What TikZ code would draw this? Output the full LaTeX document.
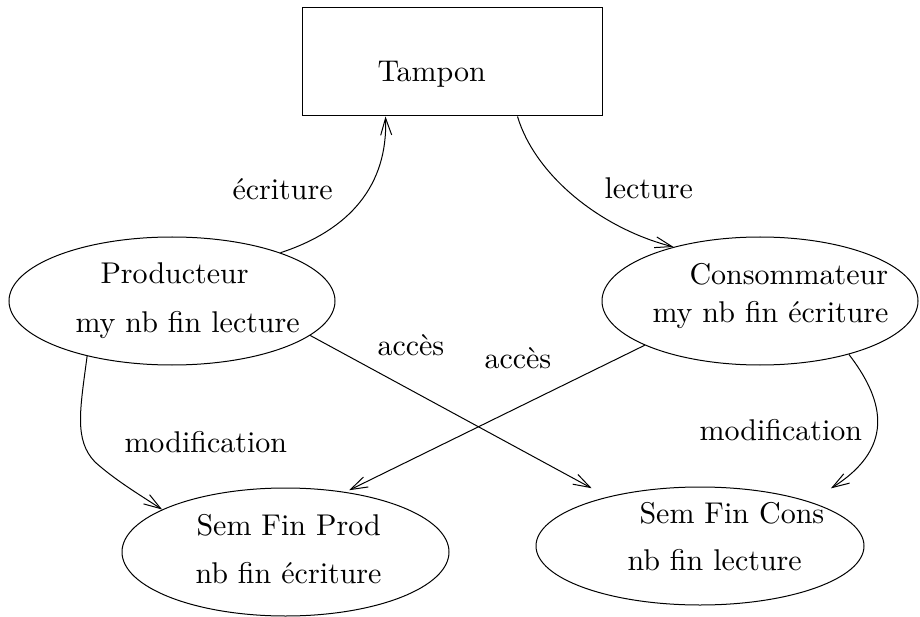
\documentclass[tikz,border=0pt]{standalone}
\usepackage{fontspec}
\usetikzlibrary{shapes.geometric,arrows.meta,calc}
\begin{document}
\begin{tikzpicture}[x=1pt,y=-1pt,line width=1pt,
  oval/.style={draw,ellipse,inner sep=0pt},
  boxnode/.style={draw,rectangle,inner sep=0pt},
  txt/.style={anchor=base west,inner sep=0pt,scale=3,font=\fontsize{10}{12}\selectfont},
  arr/.style={-{Straight Barb[length=17pt,width=11pt]}}]
\useasboundingbox (0,0) rectangle (920,617);

% shapes
\node[boxnode,minimum width=300pt,minimum height=108pt] (tampon) at (452,62) {};
\node[oval,minimum width=326pt,minimum height=128pt] (prod) at (172,301) {};
\node[oval,minimum width=316pt,minimum height=128pt] (cons) at (760,301) {};
\node[oval,minimum width=327pt,minimum height=128pt] (sfp) at (285.5,552) {};
\node[oval,minimum width=328pt,minimum height=118pt] (sfc) at (700,546) {};

% texts inside the shapes
\node[txt] (tTampon) at (376,82) {Tampon};
\node[txt] (tProd1) at (99,284) {Producteur};
\node[txt] (tProd2) at (74,332) {my nb fin lecture};
\node[txt] (tCons1) at (688,285) {Consommateur};
\node[txt] (tCons2) at (651,322) {my nb fin écriture};
\node[txt] (tSfp1) at (195,535) {Sem Fin Prod};
\node[txt] (tSfp2) at (194,583) {nb fin écriture};
\node[txt] (tSfc1) at (638,523) {Sem Fin Cons};
\node[txt] (tSfc2) at (626,570) {nb fin lecture};

% connector labels
\node[txt] (lEcr) at (231,200) {écriture};
\node[txt] (lLec) at (603,199) {lecture};
\node[txt] (lAcc1) at (376,355) {accès};
\node[txt] (lAcc2) at (483,368) {accès};
\node[txt] (lMod1) at (123,452) {modification};
\node[txt] (lMod2) at (698,440) {modification};

% connectors
\draw[arr] (prod.24) .. controls (350,230) and (388,185) .. ($(tampon.south west)+(84,0)$);
\draw[arr] ($(tampon.south west)+(216,0)$) .. controls (535,175) and (600,228) .. (cons.148);
\draw[arr,shorten >=18pt] (prod.-14) -- (sfc.152.5);
\draw[arr,shorten >=4pt] (cons.201) -- (sfp.45);
\draw[arr] (prod.213) .. controls (80,410) and (74,440) .. (95,462)
  .. controls (115,480) and (140,495) .. (sfp.161);
\draw[arr,shorten >=25pt] (cons.-31) .. controls (880,395) and (900,445) .. (sfc.22);
\end{tikzpicture}
\end{document}
